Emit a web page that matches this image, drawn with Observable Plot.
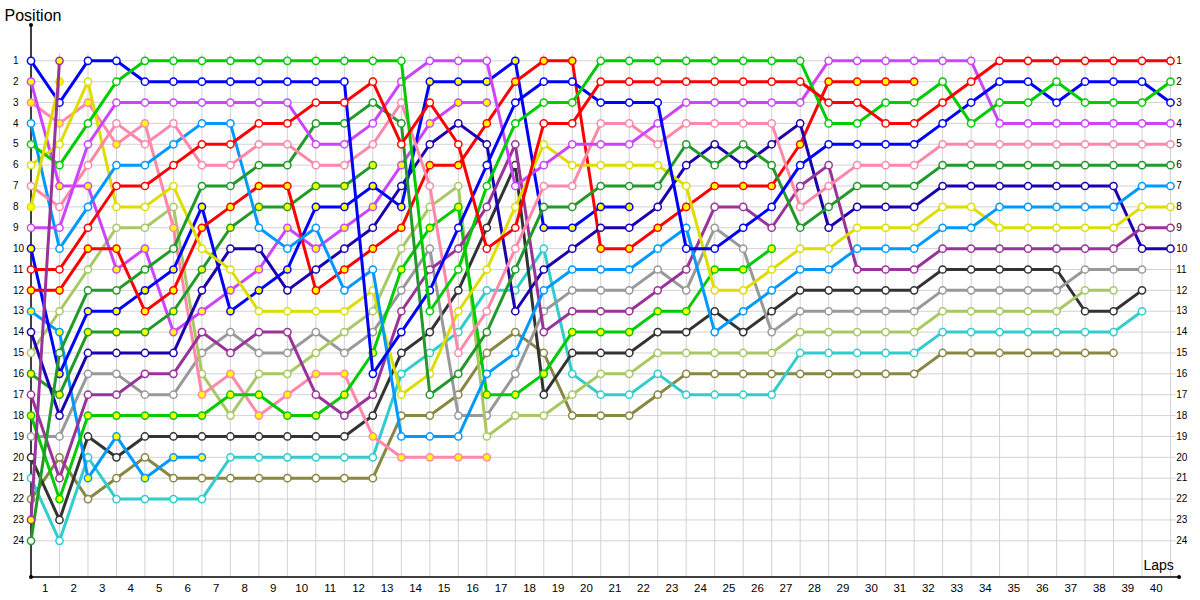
<!DOCTYPE html>
<html>
<head>
<meta charset="utf-8">
<script src="https://cdn.jsdelivr.net/npm/d3@7"></script>
<script src="https://cdn.jsdelivr.net/npm/@observablehq/plot@0.6"></script>
<style>
  html, body { margin: 0; padding: 0; background: #fff; }
  #chart { width: 1200px; height: 600px; }
</style>
</head>
<body>
<div id="chart"></div>
<script>
// ---- tick labels ----
const lapLabels = ["1","2","3","4","5","6","7","8","9","10","11","12","13","14","15","16","17","18","19","20",
  "21","22","23","24","25","26","27","28","29","30","31","32","33","34","35","36","37","38","39","40"];
const positionLabels = [1,2,3,4,5,6,7,8,9,10,11,12,13,14,15,16,17,18,19,20,21,22,23,24];

// ---- positions, index 0 = grid, index n = after lap n ----
const blueA = [1,3,1,1,2, 2,2,2,2,2, 2,2,16,14,12, 9,6,3,2,2, 3,3,3,10,10, 9,8,6,5,5, 5,5,4,3,2, 2,3,2,2,2, 3];
const blueB = [10,16,13,13,12, 11,8,13,12,11, 8,8,7,8,2, 2,2,1,9,9, 8,8];
const indigoA = [14,18,15,15,15, 15,12,10,10,12, 11,10,9,7,5, 4,5,13,11,10, 9,9,8,6,5, 6,5,4,9,8, 8,8,7,7,7, 7,7,7,7,10, 10];
const redA = [11,11,9,7,7, 6,5,5,4,4, 3,3,2,5,3, 5,10,9,4,4, 2,2,2,2,2, 2,2,2,3,3, 4,4,3,2,1, 1,1,1,1,1, 1];
const redB = [12,12,10,10,13, 12,9,8,7,7, 12,11,10,9,6, 6,4,2,1,1, 10,10,9,8,7, 7,7,5,2,2, 2,2];
const greenA = [5,6,4,2,1, 1,1,1,1,1, 1,1,1,1,13, 11,7,4,3,3, 1,1,1,1,1, 1,1,1,4,4, 3,3,2,4,3, 3,2,3,3,3, 2];
const greenB = [18,22,18,18,18, 18,18,17,17,18, 18,17,15,11,9, 8,17,17,16,14, 14,14,13,13,11, 11,10];
const darkGreenA = [24,15,12,12,11, 10,7,7,6,6, 4,4,3,4,17, 16,14,11,8,8, 7,7,7,5,6, 5,6,9,8,7, 7,7,6,6,6, 6,6,6,6,6, 6];
const darkGreenB = [16,17,14,14,14, 13,11,9,8,8, 7,7,6];
const violetA = [9,9,5,3,3, 3,3,3,3,3, 5,5,4,2,1, 1,1,7,6,5, 5,5,4,3,3, 3,3,3,1,1, 1,1,1,1,4, 4,4,4,4,4, 4];
const violetB = [2,7,7,11,10, 14,13,12,11,9, 10,9,8,6,4, 3,3];
const pinkA = [7,8,6,4,5, 4,6,6,5,5, 6,6,5,3,7, 15,13,10,7,7, 4,4,5,4,4, 4,4,8,7,6, 6,6,5,5,5, 5,5,5,5,5, 5];
const pinkB = [3,4,3,5,4, 9,17,16,18,17, 16,16,19,20,20, 20,20];
const yellowA = [6,5,2,8,8, 7,10,11,13,13, 13,13,12,17,16, 13,11,8,5,6, 6,6,6,7,12, 12,11,10,10,9, 9,9,8,8,9, 9,9,9,9,8, 8];
const yellowB = [8,2];
const skyA = [4,10,8,6,6, 5,4,4,9,10, 9,12,11,19,19, 19,16,15,12,11, 11,11,10,9,14, 13,12,11,11,10, 10,10,9,9,8, 8,8,8,8,7, 7];
const skyB = [13,14,21,19,21, 20,20];
const limeA = [15,13,11,9,9, 8,16,18,16,16, 15,14,13,10,8, 7,19,18,18,17, 16,16,15,15,15, 15,15,14,14,14, 14,14,13,13,13, 13,13,12,12];
const purpleA = [17,21,17,17,16, 16,14,15,14,14, 17,18,17,13,11, 10,8,5,14,13, 13,13,12,11,8, 8,9,7,6,11, 11,11,10,10,10, 10,10,10,10,9, 9];
const purpleB = [23,1];
const greyA = [19,19,16,16,17, 17,15,14,15,15, 14,15,14,12,10, 18,18,16,13,12, 12,12,11,12,9, 10,14,13,13,13, 13,13,12,12,12, 12,12,11,11,11];
const blackA = [20,23,19,20,19, 19,19,19,19,19, 19,19,18,15,14, 12,9,6,17,15, 15,15,14,14,13, 14,13,12,12,12, 12,12,11,11,11, 11,11,13,13,12];
const cyanA = [21,24,20,22,22, 22,22,20,20,20, 20,20,20,16,15, 14,12,12,10,16, 17,17,16,17,17, 17,17,15,15,15, 15,15,14,14,14, 14,14,14,14,13];
const oliveA = [22,20,22,21,20, 21,21,21,21,21, 21,21,21,18,18, 17,15,14,15,18, 18,18,17,16,16, 16,16,16,16,16, 16,16,15,15,15, 15,15,15,15];

// ---- styles ----
const C = {
  blue: "#0000ff", indigo: "#1c00b0", red: "#ff0000", green: "#00cc00", darkGreen: "#22992a",
  violet: "#cc44ff", pink: "#ff88aa", yellow: "#dddd00", sky: "#0099ff", lime: "#a8c864",
  purple: "#993399", grey: "#999999", black: "#333333", cyan: "#33cccc", olive: "#888844"
};
const WHITE = "#ffffff", MARK = "#ffff00";

const series = [
  {pos: oliveA, color: C.olive, fill: WHITE},
  {pos: cyanA, color: C.cyan, fill: WHITE},
  {pos: blackA, color: C.black, fill: WHITE},
  {pos: greyA, color: C.grey, fill: WHITE},
  {pos: limeA, color: C.lime, fill: WHITE},
  {pos: skyB, color: C.sky, fill: MARK},
  {pos: pinkB, color: C.pink, fill: MARK},
  {pos: violetB, color: C.violet, fill: MARK},
  {pos: darkGreenB, color: C.darkGreen, fill: MARK},
  {pos: greenB, color: C.green, fill: MARK},
  {pos: blueB, color: C.blue, fill: MARK},
  {pos: redB, color: C.red, fill: MARK},
  {pos: indigoA, color: C.indigo, fill: WHITE},
  {pos: purpleA, color: C.purple, fill: WHITE},
  {pos: yellowA, color: C.yellow, fill: WHITE},
  {pos: skyA, color: C.sky, fill: WHITE},
  {pos: darkGreenA, color: C.darkGreen, fill: WHITE},
  {pos: pinkA, color: C.pink, fill: WHITE},
  {pos: violetA, color: C.violet, fill: WHITE},
  {pos: blueA, color: C.blue, fill: WHITE},
  {pos: greenA, color: C.green, fill: WHITE},
  {pos: redA, color: C.red, fill: WHITE},
  {pos: yellowB, color: C.yellow, fill: MARK},
  {pos: purpleB, color: C.purple, fill: MARK}
];

const gridLaps = lapLabels.map(l => +l);

const marks = [
  // grid
  Plot.ruleY(positionLabels, {y: d => d, x1: 0, x2: 40.2, stroke: "#d2d2d2", strokeWidth: 1}),
  Plot.ruleX(gridLaps, {x: d => d, y1: 0.65, y2: 25.73, stroke: "#d2d2d2", strokeWidth: 1}),
  // axes
  Plot.ruleX([0], {y1: -0.72, y2: 25.73, stroke: "#000", strokeWidth: 1.5}),
  Plot.ruleY([25.73], {x1: 0, x2: 40.3, stroke: "#000", strokeWidth: 1.5}),
  Plot.dot([[0, -0.72], [0, 25.73], [40.3, 25.73]], {x: d => d[0], y: d => d[1], r: 2, fill: "#000", stroke: null})
];

for (const s of series) {
  const rows = s.pos.map((p, i) => ({lap: i, pos: p}));
  marks.push(Plot.line(rows, {x: "lap", y: "pos", stroke: s.color, strokeWidth: 3, curve: "linear"}));
  marks.push(Plot.dot(rows, {x: "lap", y: "pos", r: 3.6, fill: s.fill, stroke: s.color, strokeWidth: 1.5}));
}

marks.push(
  Plot.text(lapLabels, {x: (d, i) => i + 0.5, y: 26.3, text: d => d, fontSize: 11.5, fill: "#000"}),
  Plot.text(positionLabels, {x: -0.63, y: d => d, text: d => String(d), textAnchor: "start", fontSize: 10, fill: "#000"}),
  Plot.text(positionLabels, {x: 40.2, y: d => d, text: d => String(d), textAnchor: "start", fontSize: 10, fill: "#000"}),
  Plot.text(["Position"], {x: -0.93, y: -1.15, text: d => d, textAnchor: "start", fontSize: 16, fill: "#000"}),
  Plot.text(["Laps"], {x: 39.05, y: 25.2, text: d => d, textAnchor: "start", fontSize: 14, fill: "#000"})
);

const chart = Plot.plot({
  width: 1200,
  height: 600,
  margin: 0,
  style: {fontFamily: "'Liberation Sans', Arial, sans-serif", background: "#fff", overflow: "visible"},
  x: {domain: [0, 40], range: [30.5, 1170], axis: null},
  y: {domain: [1, 24], range: [60.3, 540.3], axis: null},
  marks
});
document.getElementById("chart").appendChild(chart);
</script>
</body>
</html>
